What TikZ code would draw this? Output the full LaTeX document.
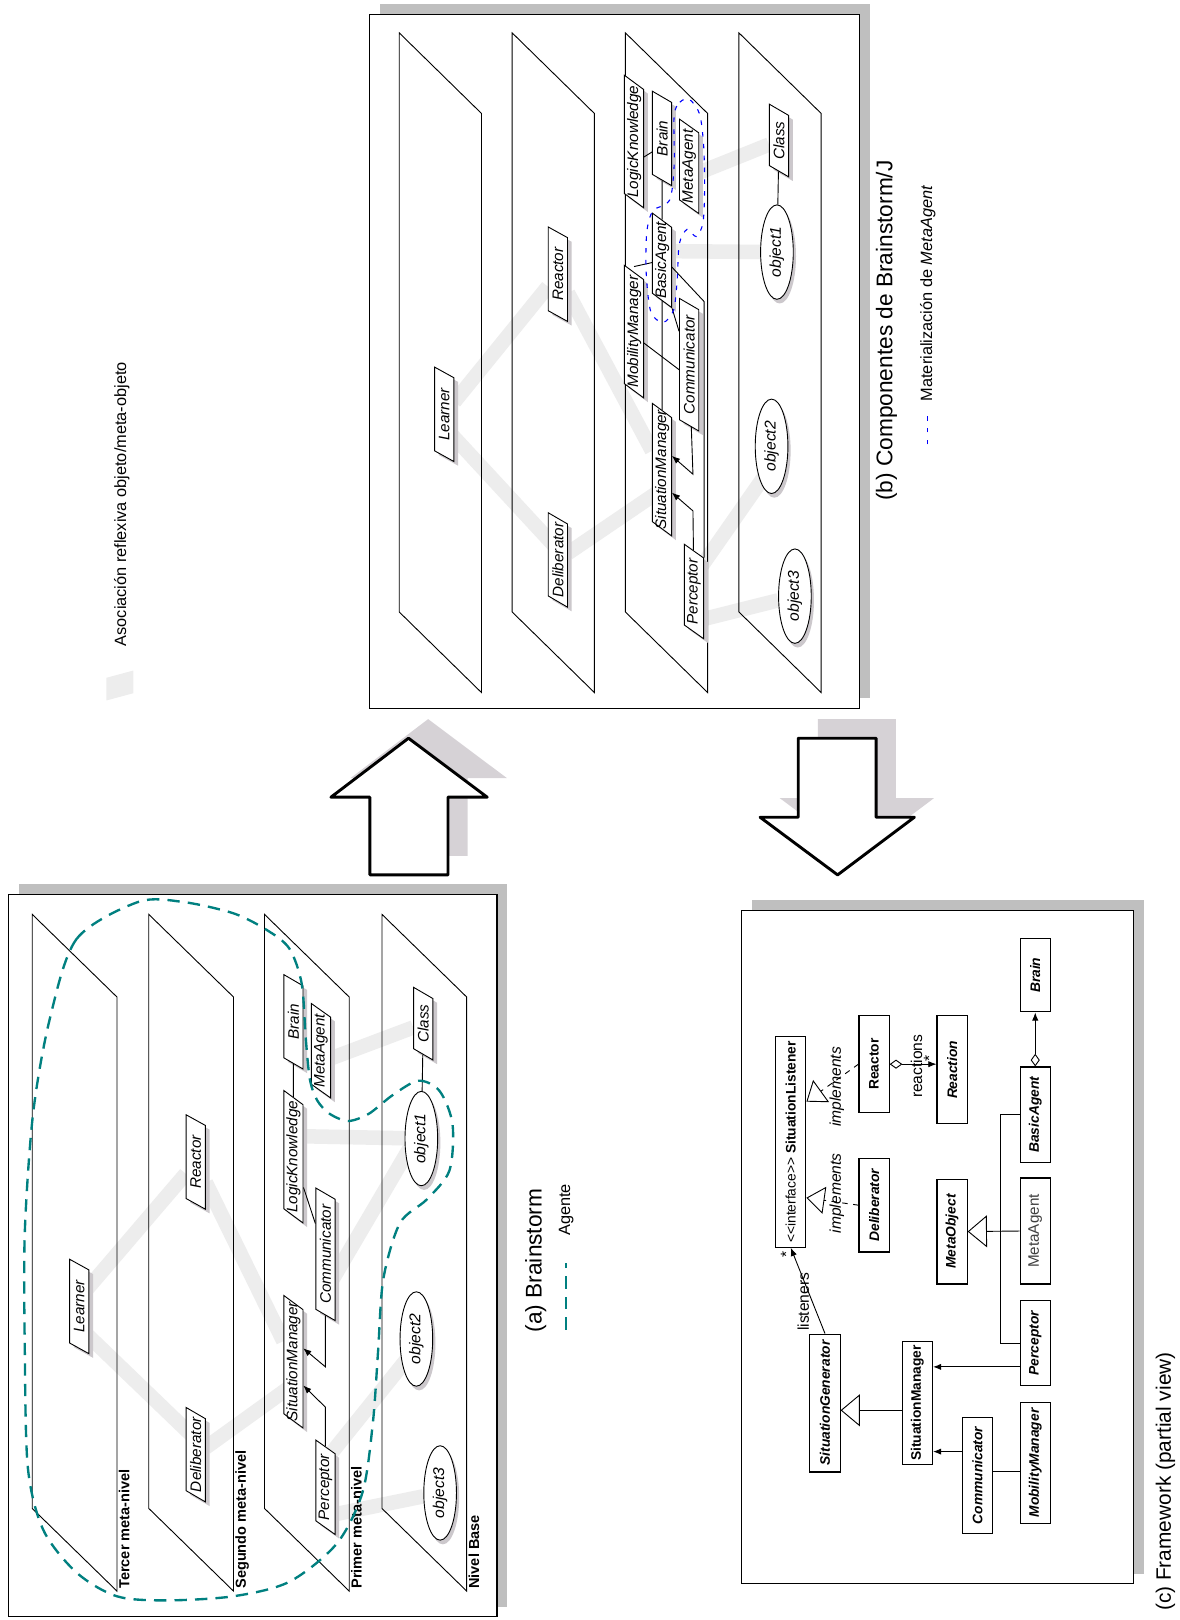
\documentclass[tikz,border=0pt]{standalone}
\usepackage{fontspec}
\setmainfont{Liberation Sans}
\usetikzlibrary{arrows.meta, positioning, calc, shapes.geometric, shadows}

\definecolor{bandgray}{gray}{0.93}
\definecolor{boxshade}{RGB}{204,200,204}
\definecolor{frameshade}{gray}{0.75}
\definecolor{arrowshade}{RGB}{214,210,214}
\definecolor{agente}{RGB}{0,128,128}

\pgfdeclarelayer{base}
\pgfdeclarelayer{bg}
\pgfsetlayers{base,bg,main}

\tikzset{
  panel/.style={draw, fill=white, line width=0.6pt},
  plane/.style={draw, line width=0.5pt},
  planelbl/.style={rotate=90, anchor=north west, inner sep=0.6pt, font=\fontsize{8}{9}\selectfont\bfseries},
  comp/.style={trapezium, trapezium left angle=45, trapezium right angle=135, trapezium stretches body,
    rotate=90, draw, fill=white, line width=0.5pt, inner xsep=0pt, inner ysep=0pt, minimum height=10.6pt,
    font=\fontsize{8.4}{10}\selectfont\itshape,
    drop shadow={shadow xshift=2.3pt, shadow yshift=-2.3pt, fill=boxshade, opacity=1},
    execute at begin node={\hbox to 0pt\bgroup\hss}, execute at end node={\hss\egroup}},
  compS/.style={comp, minimum width=40pt},
  compM/.style={comp, minimum width=52pt},
  compL/.style={comp, minimum width=73pt},
  obj/.style={ellipse, rotate=90, draw, fill=white, line width=0.5pt, inner sep=0pt,
    minimum width=52pt, minimum height=18pt, font=\fontsize{8.6}{10}\selectfont\itshape,
    drop shadow={shadow xshift=1.5pt, shadow yshift=-2.3pt, fill=boxshade, opacity=1}},
  reflex/.style={draw=bandgray, line width=8pt},
  link/.style={line width=0.5pt},
  arrow/.style={-{Latex[length=4.5pt, width=3.5pt]}, line width=0.5pt},
  cls/.style={rectangle, rotate=90, draw, fill=white, line width=0.6pt, inner sep=0pt,
    minimum height=16.6pt, font=\fontsize{7.6}{9}\selectfont\bfseries\itshape},
  impl/.style={-{Triangle[open, length=10pt, width=15pt]}, line width=0.5pt, dash pattern=on 3pt off 3pt},
  gen/.style={-{Triangle[open, length=10.6pt, width=17.6pt]}, line width=0.5pt},
  assoc/.style={{Diamond[open, length=7pt, width=5pt]}-{Latex[length=4.5pt, width=3.5pt]}, line width=0.5pt},
  lbl/.style={rotate=90, inner sep=0.5pt, font=\fontsize{8.6}{9}\selectfont},
  legend/.style={rotate=90, inner sep=0.5pt, font=\fontsize{9}{10}\selectfont},
  caption/.style={rotate=90, inner sep=0.5pt, font=\fontsize{12.5}{14}\selectfont},
  bigarrow/.style={draw, fill=white, line width=1.6pt, line join=round},
  agentline/.style={draw=agente, line width=1.3pt, dash pattern=on 6.8pt off 4.5pt},
  matline/.style={draw=blue, line width=0.6pt, dash pattern=on 2.5pt off 4pt}
}

\begin{document}
\begin{tikzpicture}[x=0.02cm, y=-0.02cm]
  \useasboundingbox (0,0) rectangle (1142,1568);

  \begin{pgfonlayer}{base}
    \fill[frameshade] (18,856) rectangle (491,1555);
    \draw[panel] (8,866) rectangle (481,1565);
    \fill[frameshade] (368,4) rectangle (842,676);
    \draw[panel] (358,14) rectangle (832,686);
    \fill[frameshade] (728,871) rectangle (1107,1523);
    \draw[panel] (718,881) rectangle (1097,1533);
  \end{pgfonlayer}

  \fill[arrowshade, shift={(19,-18.5)}] (395.4,714.5) -- (471.6,771.6) -- (433.6,771.6) -- (433.6,846.8)
    -- (358,846.8) -- (358,771.6) -- (320.3,771.6) -- cycle;
  \draw[bigarrow] (395.4,714.5) -- (471.6,771.6) -- (433.6,771.6) -- (433.6,846.8)
    -- (358,846.8) -- (358,771.6) -- (320.3,771.6) -- cycle;
  \fill[arrowshade, shift={(19,-18.5)}] (772.6,714.5) -- (848,714.5) -- (848,791) -- (885,791)
    -- (810.7,846.8) -- (735.7,791) -- (772.6,791) -- cycle;
  \draw[bigarrow] (772.6,714.5) -- (848,714.5) -- (848,791) -- (885,791)
    -- (810.7,846.8) -- (735.7,791) -- (772.6,791) -- cycle;

  \foreach \px in {31.2,144,256,369.7}
    \draw[plane] (\px,885) -- ++(82,80) -- ++(0,575) -- ++(-82,-80) -- cycle;
  \foreach \px in {386.4,495.7,605.3,715.2}
    \draw[plane] (\px,31.8) -- ++(79.6,78) -- ++(0,560.5) -- ++(-79.6,-78) -- cycle;

  \node[planelbl] (lvA1) at (113.7,1539) {Tercer meta-nivel};
  \node[planelbl] (lvA2) at (226.5,1539) {Segundo meta-nivel};
  \node[planelbl] (lvA3) at (338.5,1539) {Primer meta-nivel};
  \node[planelbl] (lvA4) at (452.2,1539) {Nivel Base};

  \node[compM] (lnA) at (76.7,1264.5) {Learner};
  \node[compM] (rcA) at (189.5,1124.7) {Reactor};
  \node[compM] (dlA) at (189.5,1408) {Deliberator};
  \node[compM] (brA) at (284,989) {Brain};
  \node[compM] (maA) at (310.7,1017) {MetaAgent};
  \node[compL] (lkA) at (284,1119.6) {LogicKnowledge};
  \node[compL] (cmA) at (315,1214) {Communicator};
  \node[compL] (smA) at (284,1318) {SituationManager};
  \node[compM] (pcA) at (315,1439.5) {Perceptor};
  \node[compS] (clA) at (409.7,990.8) {Class};
  \node[obj] (o1A) at (407.8,1102) {object1};
  \node[obj] (o2A) at (403,1296) {object2};
  \node[obj] (o3A) at (426,1445) {object3};

  \draw[link] (brA) -- (lkA);
  \draw[link] (lkA) -- (cmA);
  \draw[arrow] (cmA) -- ++(0,109) -- ($(smA)+(9.5,-13)$);
  \draw[arrow] (pcA) -- ++(0,-77.5) -- ($(smA)+(9.5,23)$);
  \draw[link] (clA) -- (o1A);

  \node[compM] (lnB) at (430,401) {Learner};
  \node[compM] (rcB) at (540,265.4) {Reactor};
  \node[compM] (dlB) at (540,542) {Deliberator};
  \node[compL] (lkB) at (613.7,137) {LogicKnowledge};
  \node[compM] (brB) at (640.8,134) {Brain};
  \node[compM] (maB) at (667,161) {MetaAgent};
  \node[compM] (baB) at (640.8,252) {BasicAgent};
  \node[compL] (mmB) at (613.7,321) {MobilityManager};
  \node[compL] (cmB) at (667,353) {Communicator};
  \node[compL] (smB) at (640.8,454.6) {SituationManager};
  \node[compM] (pcB) at (671.7,572.5) {Perceptor};
  \node[compS] (clB) at (754,136) {Class};
  \node[obj] (o1B) at (752,244) {object1};
  \node[obj] (o2B) at (746.8,432) {object2};
  \node[obj] (o3B) at (769.4,577) {object3};

  \draw[link] ($(lkB)+(9.5,15)$) -- ($(brB)+(-9.5,13)$);
  \draw[link] (brB) -- (baB);
  \draw[link] ($(mmB)+(0,-63)$) -- (baB);
  \draw[link] ($(baB)+(9,6)$) -- ($(pcB.bottom right corner)+(0,-248)$) -- (pcB.bottom right corner);
  \draw[link] (baB.bottom left corner) -- (cmB);
  \draw[link] ($(mmB)+(9.5,11)$) -- ($(cmB)+(-9.5,5)$);
  \draw[link] (baB) -- (smB);
  \draw[arrow] (cmB) -- ++(3.7,106) -- ($(smB)+(9.5,-13.4)$);
  \draw[arrow] (pcB) -- ++(-1,-78) -- ($(smB)+(9.5,22.2)$);
  \draw[link] (clB) -- (o1B);

  \begin{pgfonlayer}{bg}
    \draw[reflex] ($(lnA)+(0,-8)$) -- (rcA);
    \draw[reflex] ($(lnA)+(0,20)$) -- ($(dlA)+(0,-15)$);
    \draw[reflex] (rcA) -- (smA);
    \draw[reflex] (dlA) -- ($(smA)+(0,22)$);
    \draw[reflex] ($(maA)+(0,11)$) -- (clA);
    \draw[reflex] ($(lkA)+(0,-20)$) -- (o1A);
    \draw[reflex] ($(cmA)+(0,36)$) -- ($(o1A)+(0,-10)$);
    \draw[reflex] ($(pcA)+(0,-26)$) -- ($(o2A)+(0,8)$);
    \draw[reflex] ($(pcA)+(0,28)$) -- (o3A);

    \draw[reflex] (lnB) -- (rcB);
    \draw[reflex] ($(lnB)+(0,12)$) -- ($(dlB)+(0,-10)$);
    \draw[reflex] (rcB) -- (smB);
    \draw[reflex] (dlB) -- ($(smB)+(0,19)$);
    \draw[reflex] ($(maB)+(0,10)$) -- (clB);
    \draw[reflex] ($(baB)+(0,-9)$) -- (o1B);
    \draw[reflex] ($(pcB)+(0,-14)$) -- ($(o2B)+(0,19)$);
    \draw[reflex] ($(pcB)+(0,29)$) -- (o3B);
  \end{pgfonlayer}

  \node[cls, font=\fontsize{7.6}{9}\selectfont, minimum width=116pt] (slC) at (765.4,1105.3)
    {<{}<interface>{}> \textbf{SituationListener}};
  \node[cls, minimum width=51.6pt] (dlC) at (846,1166.5) {Deliberator};
  \node[cls, font=\fontsize{7.6}{9}\selectfont\bfseries, minimum width=53.3pt] (rcC) at (846,1030) {Reactor};
  \node[cls, minimum width=59.5pt] (raC) at (921.5,1035.5) {Reaction};
  \node[cls, minimum width=57.8pt] (moC) at (921.5,1192) {MetaObject};
  \node[cls, minimum width=40.3pt] (brC) at (1002,944) {Brain};
  \node[cls, minimum width=52.7pt] (baC) at (1002,1079) {BasicAgent};
  \node[cls, font=\fontsize{8.4}{9}\selectfont, text=black!75, minimum width=58.4pt] (mgC) at (1002,1191.5) {MetaAgent};
  \node[cls, minimum width=47pt] (pcC) at (1002,1300) {Perceptor};
  \node[cls, minimum width=67pt] (mmC) at (1002,1416) {MobilityManager};
  \node[cls, minimum width=76pt] (sgC) at (798.5,1358) {SituationGenerator};
  \node[cls, font=\fontsize{7.6}{9}\selectfont\bfseries, minimum width=68pt] (smC) at (888,1358) {SituationManager};
  \node[cls, minimum width=64pt] (cmC) at (946,1428) {Communicator};

  \draw[arrow] (sgC.east) -- (slC.west);
  \draw[impl] (dlC.north) -- ($(slC.south)+(0,54)$);
  \draw[impl] (rcC.north) -- ($(slC.south)+(0,-39)$);
  \draw[assoc] (rcC.south) -- (rcC.south -| raC.north);
  \draw[assoc] (baC.east) -- (brC.west);
  \draw[link] (baC.north) -- ++(-18.5,0) |- (pcC.north);
  \draw[gen] (mgC.north) -- (moC.south);
  \draw[arrow] ($(pcC.north)+(0,23)$) coordinate (pq) -- (pq -| smC.south);
  \draw[arrow] ($(cmC.north)+(0,-23)$) coordinate (cq) -- (cq -| smC.south);
  \draw[gen] ($(smC.north)+(0,7)$) coordinate (sq) -- (sq -| sgC.south);
  \draw[link] ($(cmC.south)+(0,-4)$) coordinate (mq) -- (mq -| mmC.north);

  \node[lbl, font=\fontsize{8.6}{9}\selectfont\itshape] (imR) at (810,1052) {implements};
  \node[lbl, font=\fontsize{8.6}{9}\selectfont\itshape] (imD) at (810,1155) {implements};
  \node[lbl] (lsn) at (777.5,1260) {listeners};
  \node[lbl] (rxn) at (887,1032) {reactions};
  \node[lbl] (mlS) at (761,1214) {*};
  \node[lbl] (mlR) at (899.4,1024) {*};

  \draw[agentline] plot[smooth cycle] coordinates {(133.7,873) (74,909) (48,987) (32,1078) (24,1193)
    (24,1307) (27,1421) (42,1481) (74,1522) (113,1545) (161,1549) (226,1545) (280,1531) (326,1494)
    (351,1444) (361,1376) (366,1307) (371,1238) (387,1184) (413,1161) (435,1133) (438,1088)
    (425.5,1056) (405,1046) (380,1060) (357,1078) (337,1085) (319,1078) (307,1065) (300,1045)
    (296,1006) (292,952) (280,918) (258,900) (226,884) (177,873)};
  \draw[matline] plot[smooth cycle] coordinates {(652.5,112) (658,99) (667,96) (677,110) (681,140)
    (682,180) (680.5,215) (674,229) (665,222) (657.5,236) (655.5,270) (652,300) (642,312) (630,302)
    (625.5,265) (626,225) (632,204) (648,194) (652.5,160)};

  \node[caption] (capA) at (518.5,1220) {(a) Brainstorm};
  \node[legend] (legAg) at (548,1171) {Agente};
  \draw[agentline] (548,1287) -- (548,1222);

  \node[caption] (capB) at (858,320) {(b) Componentes de Brainstorm/J};
  \node[legend] (legMat) at (898,284) {Materialización de \textit{MetaAgent}};
  \draw[matline] (898,430) -- (898,398);

  \fill[bandgray] (103,656) -- (129,649) -- (129,671) -- (103,678) -- cycle;
  \node[legend] (legRef) at (118,488) {Asociación reflexiva objeto/meta-objeto};

  \node[caption, font=\fontsize{11.5}{13}\selectfont] (capC) at (1128,1434) {(c) Framework (partial view)};
\end{tikzpicture}
\end{document}
